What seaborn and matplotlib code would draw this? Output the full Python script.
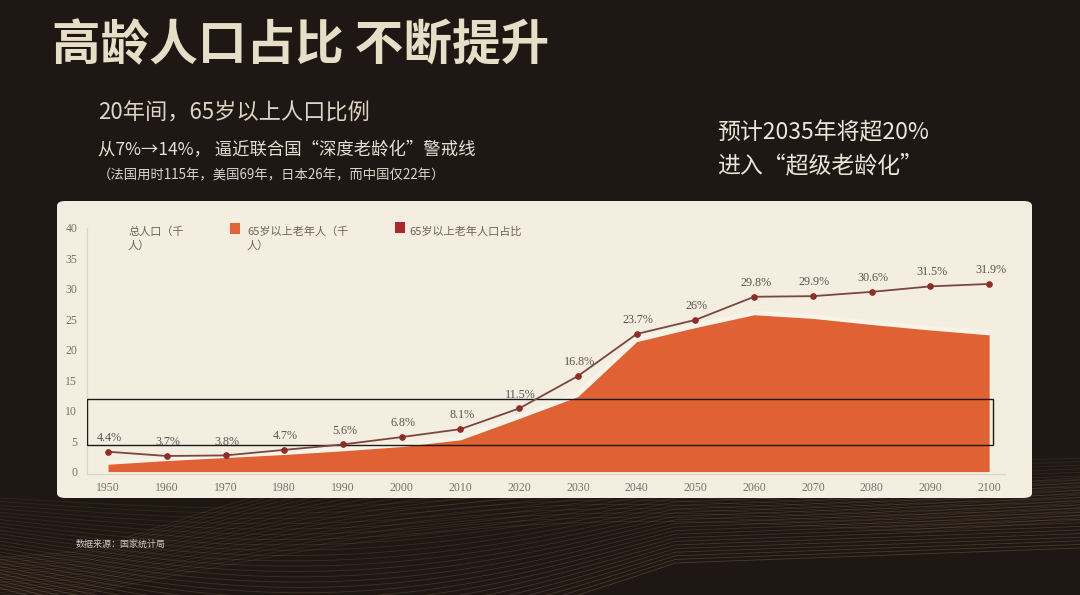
import numpy as np
import pandas as pd
import seaborn as sns
import matplotlib
matplotlib.use("Agg")
import matplotlib.pyplot as plt
from matplotlib.patches import FancyBboxPatch, Rectangle

# ---------------- data ----------------
years = ["1950", "1960", "1970", "1980", "1990", "2000", "2010", "2020",
         "2030", "2040", "2050", "2060", "2070", "2080", "2090", "2100"]
elderly_pop = [1.2, 1.8, 2.3, 2.8, 3.4, 4.1, 5.2, 8.7,
               12.3, 21.3, 23.6, 25.7, 25.1, 24.1, 23.2, 22.4]
elderly_ratio = [4.4, 3.7, 3.8, 4.7, 5.6, 6.8, 8.1, 11.5,
                 16.8, 23.7, 26, 29.8, 29.9, 30.6, 31.5, 31.9]
ratio_labels = ["4.4%", "3.7%", "3.8%", "4.7%", "5.6%", "6.8%", "8.1%", "11.5%",
                "16.8%", "23.7%", "26%", "29.8%", "29.9%", "30.6%", "31.5%", "31.9%"]
y_ticks = [0, 5, 10, 15, 20, 25, 30, 35, 40]
legend_labels = ["总人口（千\n人）", "65岁以上老年人（千\n人）", "65岁以上老年人口占比"]

title = "高龄人口占比 不断提升"
sub1 = "20年间，65岁以上人口比例"
sub2 = "从7%→14%， 逼近联合国“深度老龄化”警戒线"
sub3 = "（法国用时115年，美国69年，日本26年，而中国仅22年）"
right1 = "预计2035年将超20%"
right2 = "进入“超级老龄化”"
source = "数据来源：国家统计局"

df = pd.DataFrame({"year": years, "pop": elderly_pop, "ratio": elderly_ratio})
df["pos"] = np.arange(len(df))

# ---------------- style ----------------
sns.set_theme(style="white")
plt.rcParams["font.family"] = ["Noto Sans CJK SC", "DejaVu Sans"]
SERIF = ["Liberation Serif", "DejaVu Serif"]

W, H = 1080, 595
fig = plt.figure(figsize=(W / 100, H / 100), dpi=100)
BG = "#1f1713"
fig.patch.set_facecolor(BG)

# background decorative wave lines
axbg = fig.add_axes([0, 0, 1, 1], zorder=-3)
axbg.set_xlim(0, W)
axbg.set_ylim(H, 0)
axbg.axis("off")
axbg.set_facecolor(BG)
t = np.linspace(0, 1, 300)
xs = t * W
for i in range(26):
    y0 = 498 + i * 3.6
    ys = y0 + 70 * np.sin(np.pi * np.clip(t * 1.6, 0, 1)) * (0.3 + i / 40) - 40 * t
    axbg.plot(xs, ys, color="#c9a878", lw=0.6, alpha=0.10 + 0.006 * i)
for i in range(18):
    y0 = 600 - i * 2.5
    ys = y0 - 60 * np.sin(np.pi * np.clip((t - 0.08) * 1.3, 0, 1)) * (0.6 + i / 30) - 80 * t
    axbg.plot(xs, ys, color="#d8b888", lw=0.6, alpha=0.12)

# cream panel
panel = FancyBboxPatch((57 / W, 1 - 498 / H), 975 / W, 297 / H,
                       boxstyle="round,pad=0,rounding_size=0.008",
                       transform=fig.transFigure, facecolor="#F3EEDF",
                       edgecolor="none", zorder=-1)
fig.patches.append(panel)

# main axes
ax_left, ax_right, ax_top, ax_bottom = 87, 1005, 227.5, 474
ax = fig.add_axes([ax_left / W, 1 - ax_bottom / H, (ax_right - ax_left) / W,
                   (ax_bottom - ax_top) / H], zorder=1)
ax.set_facecolor("none")
ax.set_xlim(-0.358, 15.27)
ax.set_ylim(-0.4, 40)

# subtle light glow on top of the area
ax.plot(df["pos"], df["pop"], color="#FBF7F0", lw=6, alpha=0.6, zorder=1,
        solid_capstyle="butt")
ax.fill_between(df["pos"], 0, df["pop"], color="#E06234", lw=0, zorder=2)

# highlight box
ax.axhspan(4.35, 11.85, xmin=0, xmax=0.987, fill=False, edgecolor="#1a1a1a",
           lw=1.0, zorder=3)

ax.set_xticks(df["pos"])
ax.set_xticklabels(years, family=SERIF, fontsize=8.5, color="#77716c")
ax.set_yticks(y_ticks)
ax.set_yticklabels([str(v) for v in y_ticks], family=SERIF, fontsize=8.5,
                   color="#77716c")
ax.tick_params(axis="both", length=0)
ax.tick_params(axis="x", pad=6)
ax.tick_params(axis="y", pad=7)
for s in ["top", "right"]:
    ax.spines[s].set_visible(False)
for s in ["left", "bottom"]:
    ax.spines[s].set_color("#dcd6c8")
    ax.spines[s].set_linewidth(0.9)
ax.set_xlabel("")
ax.set_ylabel("")
ax.grid(False)

# ratio line on a secondary (hidden) axis
ax2 = ax.twinx()
ax2.set_facecolor("none")
ax2.set_ylim(0.75, 41.15)
sns.lineplot(data=df, x="pos", y="ratio", ax=ax2, color="#7a4642", lw=1.3,
             marker="o", markersize=4, markerfacecolor="#8f2b2b",
             markeredgecolor="#8f2b2b", zorder=4)
for xp, yv, lab in zip(df["pos"], df["ratio"], ratio_labels):
    ax2.annotate(lab, (xp, yv), xytext=(1, 10), textcoords="offset points",
                 ha="center", va="center", family=SERIF, fontsize=8.7,
                 color="#5a5450")
ax2.set_xlim(ax.get_xlim())
ax2.axis("off")

# legend (manual)
LEG_C = "#6f635b"
fig.text(128 / W, 1 - 226 / H, legend_labels[0], ha="left", va="top",
         fontsize=8, color=LEG_C, linespacing=1.45)
fig.patches.append(Rectangle((230 / W, 1 - 234 / H), 10 / W, 11 / H,
                             transform=fig.transFigure, facecolor="#E0633A",
                             edgecolor="none", zorder=2))
fig.text(247 / W, 1 - 226 / H, legend_labels[1], ha="left", va="top",
         fontsize=8, color=LEG_C, linespacing=1.45)
fig.patches.append(Rectangle((395 / W, 1 - 233 / H), 10 / W, 11 / H,
                             transform=fig.transFigure, facecolor="#A52A2A",
                             edgecolor="none", zorder=2))
fig.text(409 / W, 1 - 226 / H, legend_labels[2], ha="left", va="top",
         fontsize=8, color=LEG_C)

# texts on dark background
fig.text(52 / W, 1 - 46 / H, title, ha="left", va="center", fontsize=35,
         fontweight="bold", color="#E6DEC6")
fig.text(98 / W, 1 - 113 / H, sub1, ha="left", va="center", fontsize=16,
         color="#DCD4C4")
fig.text(98 / W, 1 - 150 / H, sub2, ha="left", va="center", fontsize=12.5,
         color="#E6E0D4")
fig.text(98 / W, 1 - 175 / H, sub3, ha="left", va="center", fontsize=9.6,
         color="#DCD6CA")
fig.text(717 / W, 1 - 133 / H, right1, ha="left", va="center", fontsize=16.5,
         color="#ECE6DA")
fig.text(717 / W, 1 - 166 / H, right2, ha="left", va="center", fontsize=16.5,
         color="#ECE6DA")
fig.text(76 / W, 1 - 544 / H, source, ha="left", va="center", fontsize=6.5,
         color="#CFC8BC")

fig.savefig("out.png", dpi=100, facecolor=fig.get_facecolor())
